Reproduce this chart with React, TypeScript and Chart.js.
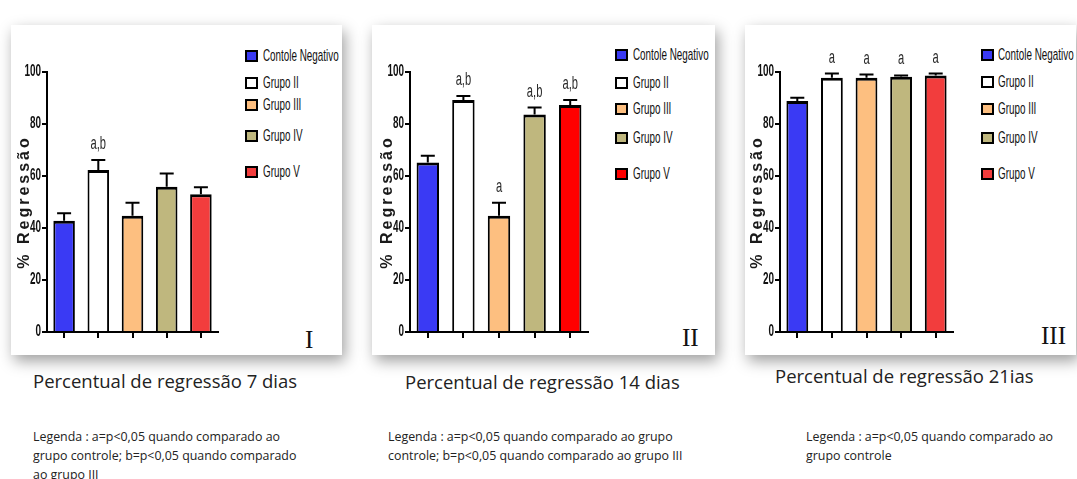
import React, { useEffect, useRef } from "react";
import { Chart, registerables } from "chart.js";

Chart.register(...registerables);

// ---------- DATA ----------
const groups = ["Contole Negativo", "Grupo II", "Grupo III", "Grupo IV", "Grupo V"];
const yTickValues = [0, 20, 40, 60, 80, 100];

const day7Means = [42.8, 62.3, 44.7, 55.9, 53.0];
const day7Sem = [2.9, 3.9, 5.0, 5.1, 2.7];
const day7Marks = ["", "a,b", "", "", ""];

const day14Means = [65.2, 89.2, 44.7, 83.7, 87.3];
const day14Sem = [2.6, 1.6, 5.0, 2.6, 1.9];
const day14Marks = ["", "a,b", "a", "a,b", "a,b"];

const day21Means = [88.8, 97.8, 97.8, 98.2, 98.7];
const day21Sem = [1.3, 1.6, 1.2, 0.5, 0.7];
const day21Marks = ["", "a", "a", "a", "a"];

const colorsA = ["#3a3af4", "#ffffff", "#fdbf80", "#bfb77e", "#f23d3d"];
const colorsB = ["#3a3af4", "#ffffff", "#fdbf80", "#bfb77e", "#ff0000"];

const yTitle = "% Regressão";

const captions = [
  "Percentual de regressão 7 dias",
  "Percentual de regressão 14 dias",
  "Percentual de regressão 21ias",
];
const notes = [
  ["Legenda : a=p<0,05 quando comparado ao", "grupo controle; b=p<0,05 quando comparado", "ao grupo III"],
  ["Legenda : a=p<0,05 quando comparado ao grupo", "controle; b=p<0,05 quando comparado ao grupo III"],
  ["Legenda : a=p<0,05 quando comparado ao", "grupo controle"],
];
const numerals = ["I", "II", "III"];

const SANS = '"Liberation Sans", Arial, sans-serif';
const SQUEEZE = 0.62;
const LEGEND_SQUEEZE = 0.58;

function narrowText(ctx: any, text: string, x: number, y: number, align: string, font: string, color: string) {
  ctx.save();
  ctx.translate(x, y);
  ctx.scale(SQUEEZE, 1);
  ctx.font = font;
  ctx.fillStyle = color;
  ctx.textAlign = align;
  ctx.textBaseline = "middle";
  ctx.fillText(text, 0, 0);
  ctx.restore();
}

// ---------- PLUGIN ----------
const errPlugin = {
  id: "errBars",
  afterDatasetsDraw(chart: any, _args: any, opts: any) {
    const { ctx } = chart;
    const meta = chart.getDatasetMeta(0);
    const ys = chart.scales.y;
    const means: number[] = chart.data.datasets[0].data;
    const ca = chart.chartArea;
    ctx.save();
    ctx.strokeStyle = "#000";
    ctx.lineWidth = 2;
    meta.data.forEach((bar: any, i: number) => {
      const x = bar.x;
      const yb = ys.getPixelForValue(means[i]);
      const yt = ys.getPixelForValue(means[i] + opts.sem[i]);
      ctx.beginPath();
      ctx.moveTo(x, yb);
      ctx.lineTo(x, yt);
      ctx.moveTo(x - 7, yt);
      ctx.lineTo(x + 7, yt);
      ctx.stroke();
      const m = opts.marks[i];
      if (m) narrowText(ctx, m, x, yt - 16, "center", "18px " + SANS, "#2a2a2a");
    });
    // y tick labels (condensed)
    yTickValues.forEach((v) => {
      narrowText(ctx, String(v), ca.left - 6, ys.getPixelForValue(v), "right", "bold 16px " + SANS, "#111");
    });
    // y-axis title
    ctx.save();
    ctx.translate(opts.titleX, (ca.top + ca.bottom) / 2);
    ctx.rotate(-Math.PI / 2);
    ctx.fillStyle = "#1a1a1a";
    ctx.font = "bold 16px " + SANS;
    (ctx as any).letterSpacing = "3px";
    ctx.textAlign = "center";
    ctx.textBaseline = "middle";
    ctx.fillText(yTitle, 0, 0);
    ctx.restore();
    ctx.restore();
  },
};

type PanelDef = {
  left: number; top: number; w: number; h: number;
  axisX: number; axisRight: number; y100: number; y0: number;
  means: number[]; sem: number[]; marks: string[]; colors: string[];
  legendBoxX: number; legendTextX: number; legendY: number[];
  numeral: string; numX: number; numY: number;
  caption: string; capX: number; capY: number;
  note: string[]; noteX: number; noteY: number;
};

const panels: PanelDef[] = [
  {
    left: 11, top: 25, w: 331, h: 330, axisX: 47, axisRight: 218, y100: 72, y0: 332,
    means: day7Means, sem: day7Sem, marks: day7Marks, colors: colorsA,
    legendBoxX: 245, legendTextX: 263, legendY: [56, 83, 105, 136, 172],
    numeral: numerals[0], numX: 305, numY: 325,
    caption: captions[0], capX: 33, capY: 368,
    note: notes[0], noteX: 33, noteY: 427,
  },
  {
    left: 372, top: 25, w: 343, h: 330, axisX: 410, axisRight: 588, y100: 72, y0: 332,
    means: day14Means, sem: day14Sem, marks: day14Marks, colors: colorsB,
    legendBoxX: 615, legendTextX: 633, legendY: [55, 83, 109, 138, 174],
    numeral: numerals[1], numX: 682, numY: 323,
    caption: captions[1], capX: 405, capY: 369,
    note: notes[1], noteX: 388, noteY: 427,
  },
  {
    left: 745, top: 25, w: 331, h: 330, axisX: 780, axisRight: 953, y100: 72, y0: 332,
    means: day21Means, sem: day21Sem, marks: day21Marks, colors: colorsA,
    legendBoxX: 981, legendTextX: 998, legendY: [55, 82, 109, 138, 174],
    numeral: numerals[2], numX: 1041, numY: 321,
    caption: captions[2], capX: 775, capY: 363,
    note: notes[2], noteX: 806, noteY: 427,
  },
];

function Panel({ p }: { p: PanelDef }) {
  const ref = useRef<HTMLCanvasElement>(null);
  const cw = p.axisRight - p.left + 6;
  const ch = p.h;
  useEffect(() => {
    if (!ref.current) return;
    const axisLeftLocal = p.axisX - p.left;
    const xAxisH = p.h - (p.y0 - p.top);
    const chart = new Chart(ref.current, {
      type: "bar",
      data: {
        labels: groups,
        datasets: [
          {
            data: p.means,
            backgroundColor: p.colors,
            borderColor: "#000",
            borderWidth: { top: 3, left: 2, right: 2, bottom: 0 } as any,
            borderSkipped: false,
            barPercentage: 0.63,
            categoryPercentage: 1,
          },
        ],
      },
      options: {
        animation: false,
        responsive: false,
        maintainAspectRatio: false,
        layout: { padding: { top: p.y100 - p.top, right: 6, bottom: 0, left: 0 } },
        plugins: {
          legend: { display: false },
          tooltip: { enabled: false },
          errBars: { sem: p.sem, marks: p.marks, titleX: axisLeftLocal - 22 } as any,
        },
        scales: {
          x: {
            type: "category",
            offset: true,
            grid: {
              offset: false,
              drawOnChartArea: false,
              drawTicks: true,
              tickLength: 6,
              color: "#000",
              lineWidth: 2,
            },
            border: { display: true, color: "#000", width: 2 },
            ticks: { display: false },
            afterFit: (s: any) => { s.height = xAxisH; },
          },
          y: {
            min: 0,
            max: 100,
            afterBuildTicks: (s: any) => { s.ticks = yTickValues.map((v) => ({ value: v })); },
            grid: {
              drawOnChartArea: false,
              drawTicks: true,
              tickLength: 5,
              color: "#000",
              lineWidth: 2,
            },
            border: { display: true, color: "#000", width: 2 },
            ticks: { display: false },
            afterFit: (s: any) => { s.width = axisLeftLocal; },
          },
        },
      } as any,
      plugins: [errPlugin],
    });
    return () => chart.destroy();
  }, []);

  return (
    <>
      <div
        style={{
          position: "absolute", left: p.left, top: p.top, width: p.w, height: p.h,
          background: "#fff", boxShadow: "3px 6px 14px rgba(0,0,0,0.38)",
        }}
      />
      <canvas
        ref={ref}
        width={cw}
        height={ch}
        style={{ position: "absolute", left: p.left, top: p.top, width: cw, height: ch }}
      />
      {groups.map((g, i) => (
        <React.Fragment key={g}>
          <div
            style={{
              position: "absolute", left: p.legendBoxX, top: p.legendY[i] - 6, width: 9, height: 8,
              background: p.colors[i], border: "2px solid #000",
            }}
          />
          <div
            style={{
              position: "absolute", left: p.legendTextX, top: p.legendY[i] - 11, height: 22,
              lineHeight: "22px", fontFamily: SANS, fontSize: 17, color: "#111", whiteSpace: "nowrap",
              transform: `scaleX(${LEGEND_SQUEEZE})`, transformOrigin: "0 50%",
            }}
          >
            {g}
          </div>
        </React.Fragment>
      ))}
      <div
        style={{
          position: "absolute", left: p.numX, top: p.numY, fontFamily: '"Liberation Serif", serif',
          fontSize: 25, lineHeight: "30px", color: "#111",
        }}
      >
        {p.numeral}
      </div>
      <div
        style={{
          position: "absolute", left: p.capX, top: p.capY, fontFamily: '"Open Sans", sans-serif',
          fontSize: 18.5, lineHeight: "26px", color: "#222", whiteSpace: "nowrap",
        }}
      >
        {p.caption}
      </div>
      <div
        style={{
          position: "absolute", left: p.noteX, top: p.noteY, fontFamily: '"Open Sans", sans-serif',
          fontSize: 12.4, lineHeight: "19px", color: "#222", whiteSpace: "nowrap",
        }}
      >
        {p.note.map((l, i) => (
          <div key={i}>{l}</div>
        ))}
      </div>
    </>
  );
}

export default function App() {
  return (
    <div style={{ position: "absolute", left: 0, top: 0, width: 1077, height: 479, background: "#fff", overflow: "hidden" }}>
      {panels.map((p, i) => (
        <Panel key={i} p={p} />
      ))}
    </div>
  );
}
